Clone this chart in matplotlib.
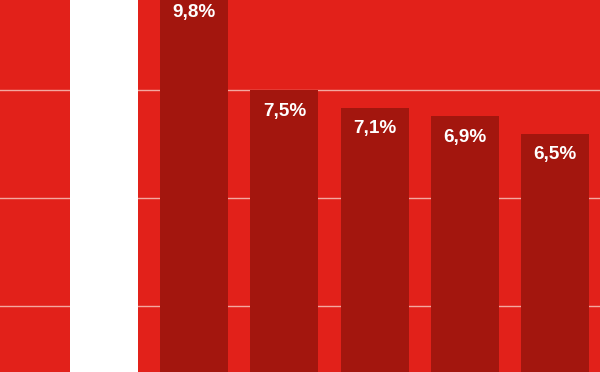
import matplotlib
matplotlib.use("Agg")
import matplotlib.pyplot as plt

# Data
positions = [0, 1, 2, 3, 4, 5]
values = [12.0, 9.8, 7.5, 7.1, 6.9, 6.5]
labels = ["", "9,8%", "7,5%", "7,1%", "6,9%", "6,5%"]
bar_colors = ["#FFFFFF", "#A3160E", "#A3160E", "#A3160E", "#A3160E", "#A3160E"]
grid_values = [2.5, 5.0, 7.5, 10.0]

BG = "#E2211A"

fig = plt.figure(figsize=(6.0, 3.72), dpi=100, facecolor=BG)
ax = fig.add_axes([0, 0, 1, 1])
ax.set_facecolor(BG)

for g in grid_values:
    ax.axhline(g, color="#F4A89F", linewidth=1.0, zorder=1)

ax.bar(positions, values, width=0.755, color=bar_colors, zorder=2)

for x, v, lab in zip(positions, values, labels):
    if lab:
        ax.annotate(lab, xy=(x, v), xytext=(0, -15.3), textcoords="offset points",
                    ha="center", va="center", color="white", fontsize=13.6,
                    fontweight="bold", family=["Liberation Sans", "DejaVu Sans"],
                    zorder=3, annotation_clip=False)

ax.set_xlim(-1.153, 5.499)
ax.set_ylim(0.98, 9.595)
ax.axis("off")

fig.savefig("out.png", dpi=100, facecolor=BG)
